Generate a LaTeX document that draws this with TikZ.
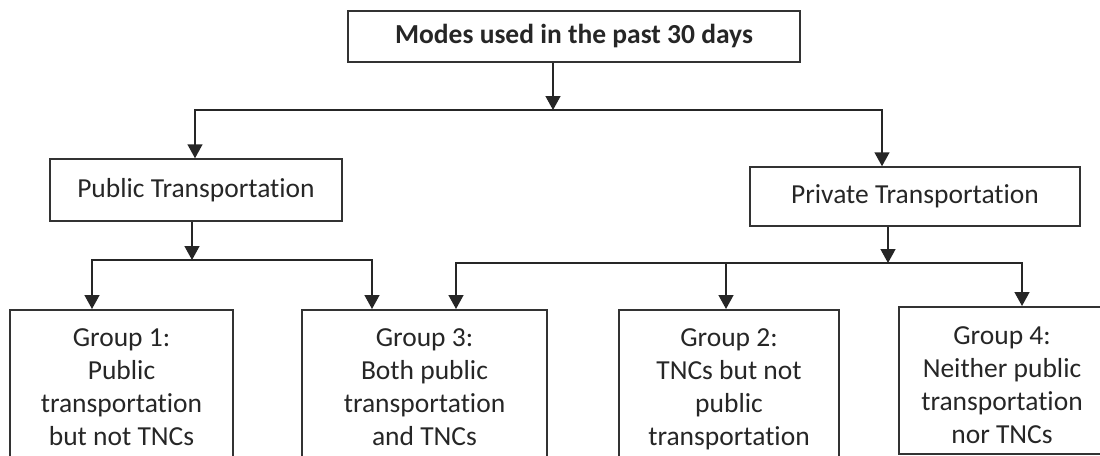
\documentclass[tikz,border=0pt]{standalone}
\usepackage{fontspec}
\setmainfont{Carlito}[Ligatures={NoCommon}]
\usetikzlibrary{arrows.meta}
\begin{document}
\begin{tikzpicture}[x=1pt,y=-1pt,
  box/.style={draw=black!80, line width=1.5pt, inner sep=0pt, align=flush center,
    text=black!85, font=\fontsize{27.5}{33}\selectfont},
  grp/.style={box, anchor=north, inner xsep=0pt, inner ysep=10pt},
  arr/.style={draw=black!85, line width=1.5pt, -{Triangle[width=15pt,length=14pt]}}]
\path[use as bounding box, clip] (0,0) rectangle (1100,455);

\node[box, minimum width=452pt, minimum height=51pt,
  font=\fontsize{27.5}{33}\selectfont\bfseries] (top) at (574,36.5) {Modes used in the past 30 days};
\node[box, minimum width=292pt, minimum height=62pt] (pub) at (196,190) {Public Transportation};
\node[box, minimum width=330pt, minimum height=59pt] (priv) at (915,196.5) {Private Transportation};

\node[grp, text width=223pt] (g1) at (121.5,309)
  {\rule{0pt}{27pt}Group 1:\\Public\\transportation\\but not TNCs\rule[-30pt]{0pt}{0pt}};
\node[grp, text width=245pt] (g3) at (424.5,309)
  {\rule{0pt}{27pt}Group 3:\\Both public\\transportation\\and TNCs\rule[-30pt]{0pt}{0pt}};
\node[grp, text width=220pt] (g2) at (729,309)
  {\rule{0pt}{27pt}Group 2:\\TNCs but not\\public\\transportation\rule[-30pt]{0pt}{0pt}};
\node[grp, text width=206pt] (g4) at (1002,306)
  {\rule{0pt}{28pt}Group 4:\\Neither public\\transportation\\nor TNCs};

\coordinate (j0) at (553,110);
\coordinate (j1) at (192,260);
\coordinate (j2) at (888,263);

\draw[arr] (top.south -| j0) -- (j0);
\draw[arr] (j0) -| ([xshift=-1pt]pub.north);
\draw[arr] (j0) -| ([xshift=-33pt]priv.north);

\draw[arr] ([xshift=-4pt]pub.south) -- (j1);
\draw[arr] (j1) -| ([xshift=-29.5pt]g1.north);
\draw[arr] (j1) -| ([xshift=-52.5pt]g3.north);

\draw[arr] ([xshift=-27pt]priv.south) -- (j2);
\draw[arr] (j2) -| ([xshift=31.5pt]g3.north);
\draw[arr] (j2) -| ([xshift=-3pt]g2.north);
\draw[arr] (j2) -| ([xshift=20pt]g4.north);
\end{tikzpicture}
\end{document}
